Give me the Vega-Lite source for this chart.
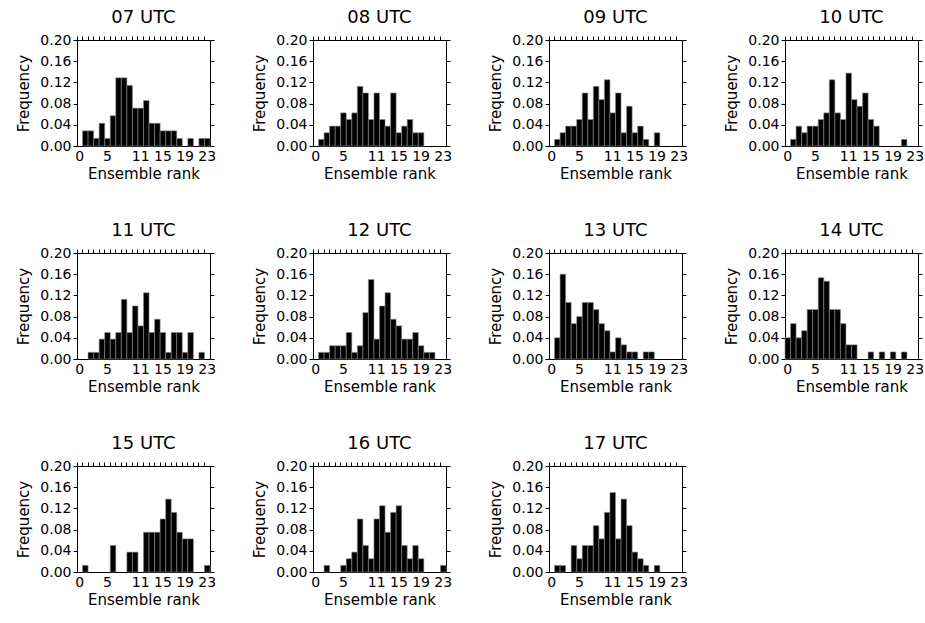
{
  "$schema": "https://vega.github.io/schema/vega-lite/v6.json",
  "background": "white",
  "padding": {"left": 16, "top": 9, "right": 5, "bottom": 5},
  "config": {
    "font": "DejaVu Sans",
    "view": {"stroke": null},
    "axis": {"labelFont": "DejaVu Sans", "titleFont": "DejaVu Sans", "labelColor": "black", "titleColor": "black", "domainColor": "black", "tickColor": "black", "grid": false, "titleFontWeight": "normal", "labelFontSize": 14, "titleFontSize": 15}
  },
  "data": {"values": [
    {"h":"07 UTC","r":1,"f":0.0286},{"h":"07 UTC","r":2,"f":0.0286},{"h":"07 UTC","r":3,"f":0.0143},{"h":"07 UTC","r":4,"f":0.0429},{"h":"07 UTC","r":5,"f":0.0143},{"h":"07 UTC","r":6,"f":0.0571},{"h":"07 UTC","r":7,"f":0.1286},{"h":"07 UTC","r":8,"f":0.1286},{"h":"07 UTC","r":9,"f":0.1143},{"h":"07 UTC","r":10,"f":0.0714},{"h":"07 UTC","r":11,"f":0.0714},{"h":"07 UTC","r":12,"f":0.0857},{"h":"07 UTC","r":13,"f":0.0429},{"h":"07 UTC","r":14,"f":0.0429},{"h":"07 UTC","r":15,"f":0.0286},{"h":"07 UTC","r":16,"f":0.0286},{"h":"07 UTC","r":17,"f":0.0286},{"h":"07 UTC","r":18,"f":0.0143},{"h":"07 UTC","r":20,"f":0.0143},{"h":"07 UTC","r":22,"f":0.0143},{"h":"07 UTC","r":23,"f":0.0143},
    {"h":"08 UTC","r":1,"f":0.0125},{"h":"08 UTC","r":2,"f":0.025},{"h":"08 UTC","r":3,"f":0.0375},{"h":"08 UTC","r":4,"f":0.0375},{"h":"08 UTC","r":5,"f":0.0625},{"h":"08 UTC","r":6,"f":0.05},{"h":"08 UTC","r":7,"f":0.0625},{"h":"08 UTC","r":8,"f":0.1125},{"h":"08 UTC","r":9,"f":0.1},{"h":"08 UTC","r":10,"f":0.05},{"h":"08 UTC","r":11,"f":0.1},{"h":"08 UTC","r":12,"f":0.05},{"h":"08 UTC","r":13,"f":0.0375},{"h":"08 UTC","r":14,"f":0.1},{"h":"08 UTC","r":15,"f":0.025},{"h":"08 UTC","r":16,"f":0.0375},{"h":"08 UTC","r":17,"f":0.05},{"h":"08 UTC","r":18,"f":0.025},{"h":"08 UTC","r":19,"f":0.025},
    {"h":"09 UTC","r":1,"f":0.0125},{"h":"09 UTC","r":2,"f":0.025},{"h":"09 UTC","r":3,"f":0.0375},{"h":"09 UTC","r":4,"f":0.0375},{"h":"09 UTC","r":5,"f":0.05},{"h":"09 UTC","r":6,"f":0.1},{"h":"09 UTC","r":7,"f":0.05},{"h":"09 UTC","r":8,"f":0.1125},{"h":"09 UTC","r":9,"f":0.0875},{"h":"09 UTC","r":10,"f":0.125},{"h":"09 UTC","r":11,"f":0.0625},{"h":"09 UTC","r":12,"f":0.1},{"h":"09 UTC","r":13,"f":0.025},{"h":"09 UTC","r":14,"f":0.075},{"h":"09 UTC","r":15,"f":0.025},{"h":"09 UTC","r":16,"f":0.0375},{"h":"09 UTC","r":17,"f":0.0125},{"h":"09 UTC","r":19,"f":0.025},
    {"h":"10 UTC","r":1,"f":0.0125},{"h":"10 UTC","r":2,"f":0.0375},{"h":"10 UTC","r":3,"f":0.025},{"h":"10 UTC","r":4,"f":0.0375},{"h":"10 UTC","r":5,"f":0.0375},{"h":"10 UTC","r":6,"f":0.05},{"h":"10 UTC","r":7,"f":0.0625},{"h":"10 UTC","r":8,"f":0.125},{"h":"10 UTC","r":9,"f":0.0625},{"h":"10 UTC","r":10,"f":0.05},{"h":"10 UTC","r":11,"f":0.1375},{"h":"10 UTC","r":12,"f":0.0875},{"h":"10 UTC","r":13,"f":0.075},{"h":"10 UTC","r":14,"f":0.1},{"h":"10 UTC","r":15,"f":0.05},{"h":"10 UTC","r":16,"f":0.0375},{"h":"10 UTC","r":21,"f":0.0125},
    {"h":"11 UTC","r":2,"f":0.0125},{"h":"11 UTC","r":3,"f":0.0125},{"h":"11 UTC","r":4,"f":0.0375},{"h":"11 UTC","r":5,"f":0.05},{"h":"11 UTC","r":6,"f":0.0375},{"h":"11 UTC","r":7,"f":0.05},{"h":"11 UTC","r":8,"f":0.1125},{"h":"11 UTC","r":9,"f":0.05},{"h":"11 UTC","r":10,"f":0.1},{"h":"11 UTC","r":11,"f":0.0625},{"h":"11 UTC","r":12,"f":0.125},{"h":"11 UTC","r":13,"f":0.05},{"h":"11 UTC","r":14,"f":0.075},{"h":"11 UTC","r":15,"f":0.05},{"h":"11 UTC","r":16,"f":0.0125},{"h":"11 UTC","r":17,"f":0.05},{"h":"11 UTC","r":18,"f":0.05},{"h":"11 UTC","r":19,"f":0.0125},{"h":"11 UTC","r":20,"f":0.05},{"h":"11 UTC","r":22,"f":0.0125},
    {"h":"12 UTC","r":1,"f":0.0125},{"h":"12 UTC","r":2,"f":0.0125},{"h":"12 UTC","r":3,"f":0.025},{"h":"12 UTC","r":4,"f":0.025},{"h":"12 UTC","r":5,"f":0.025},{"h":"12 UTC","r":6,"f":0.05},{"h":"12 UTC","r":7,"f":0.0125},{"h":"12 UTC","r":8,"f":0.025},{"h":"12 UTC","r":9,"f":0.0875},{"h":"12 UTC","r":10,"f":0.15},{"h":"12 UTC","r":11,"f":0.0375},{"h":"12 UTC","r":12,"f":0.1},{"h":"12 UTC","r":13,"f":0.125},{"h":"12 UTC","r":14,"f":0.075},{"h":"12 UTC","r":15,"f":0.0625},{"h":"12 UTC","r":16,"f":0.0375},{"h":"12 UTC","r":17,"f":0.0375},{"h":"12 UTC","r":18,"f":0.05},{"h":"12 UTC","r":19,"f":0.025},{"h":"12 UTC","r":20,"f":0.0125},{"h":"12 UTC","r":21,"f":0.0125},
    {"h":"13 UTC","r":1,"f":0.04},{"h":"13 UTC","r":2,"f":0.16},{"h":"13 UTC","r":3,"f":0.1067},{"h":"13 UTC","r":4,"f":0.0667},{"h":"13 UTC","r":5,"f":0.08},{"h":"13 UTC","r":6,"f":0.1067},{"h":"13 UTC","r":7,"f":0.1067},{"h":"13 UTC","r":8,"f":0.0933},{"h":"13 UTC","r":9,"f":0.0667},{"h":"13 UTC","r":10,"f":0.0533},{"h":"13 UTC","r":11,"f":0.0133},{"h":"13 UTC","r":12,"f":0.04},{"h":"13 UTC","r":13,"f":0.0267},{"h":"13 UTC","r":14,"f":0.0133},{"h":"13 UTC","r":15,"f":0.0133},{"h":"13 UTC","r":17,"f":0.0133},{"h":"13 UTC","r":18,"f":0.0133},
    {"h":"14 UTC","r":0,"f":0.04},{"h":"14 UTC","r":1,"f":0.0667},{"h":"14 UTC","r":2,"f":0.04},{"h":"14 UTC","r":3,"f":0.0533},{"h":"14 UTC","r":4,"f":0.0933},{"h":"14 UTC","r":5,"f":0.0933},{"h":"14 UTC","r":6,"f":0.1533},{"h":"14 UTC","r":7,"f":0.1467},{"h":"14 UTC","r":8,"f":0.0933},{"h":"14 UTC","r":9,"f":0.0933},{"h":"14 UTC","r":10,"f":0.0667},{"h":"14 UTC","r":11,"f":0.0267},{"h":"14 UTC","r":12,"f":0.0267},{"h":"14 UTC","r":15,"f":0.0133},{"h":"14 UTC","r":17,"f":0.0133},{"h":"14 UTC","r":19,"f":0.0133},{"h":"14 UTC","r":21,"f":0.0133},
    {"h":"15 UTC","r":1,"f":0.0125},{"h":"15 UTC","r":6,"f":0.05},{"h":"15 UTC","r":9,"f":0.0375},{"h":"15 UTC","r":10,"f":0.0375},{"h":"15 UTC","r":12,"f":0.075},{"h":"15 UTC","r":13,"f":0.075},{"h":"15 UTC","r":14,"f":0.075},{"h":"15 UTC","r":15,"f":0.1},{"h":"15 UTC","r":16,"f":0.1375},{"h":"15 UTC","r":17,"f":0.1125},{"h":"15 UTC","r":18,"f":0.075},{"h":"15 UTC","r":19,"f":0.0625},{"h":"15 UTC","r":20,"f":0.0625},{"h":"15 UTC","r":23,"f":0.0125},
    {"h":"16 UTC","r":2,"f":0.0125},{"h":"16 UTC","r":5,"f":0.0125},{"h":"16 UTC","r":6,"f":0.025},{"h":"16 UTC","r":7,"f":0.0375},{"h":"16 UTC","r":8,"f":0.1},{"h":"16 UTC","r":9,"f":0.05},{"h":"16 UTC","r":10,"f":0.025},{"h":"16 UTC","r":11,"f":0.1},{"h":"16 UTC","r":12,"f":0.125},{"h":"16 UTC","r":13,"f":0.075},{"h":"16 UTC","r":14,"f":0.1125},{"h":"16 UTC","r":15,"f":0.125},{"h":"16 UTC","r":16,"f":0.05},{"h":"16 UTC","r":17,"f":0.025},{"h":"16 UTC","r":18,"f":0.05},{"h":"16 UTC","r":19,"f":0.025},{"h":"16 UTC","r":23,"f":0.0125},
    {"h":"17 UTC","r":1,"f":0.0125},{"h":"17 UTC","r":2,"f":0.0125},{"h":"17 UTC","r":4,"f":0.05},{"h":"17 UTC","r":5,"f":0.025},{"h":"17 UTC","r":6,"f":0.05},{"h":"17 UTC","r":7,"f":0.05},{"h":"17 UTC","r":8,"f":0.0875},{"h":"17 UTC","r":9,"f":0.0625},{"h":"17 UTC","r":10,"f":0.1125},{"h":"17 UTC","r":11,"f":0.15},{"h":"17 UTC","r":12,"f":0.0625},{"h":"17 UTC","r":13,"f":0.1375},{"h":"17 UTC","r":14,"f":0.0875},{"h":"17 UTC","r":15,"f":0.0375},{"h":"17 UTC","r":16,"f":0.025},{"h":"17 UTC","r":17,"f":0.0125},{"h":"17 UTC","r":19,"f":0.0125}
  ]},
  "facet": {"field": "h", "type": "nominal", "header": {"title": null, "labelFont": "DejaVu Sans", "labelFontSize": 18, "labelColor": "black", "labelPadding": 6}},
  "columns": 4,
  "spacing": {"column": 36, "row": 41},
  "resolve": {"axis": {"x": "independent", "y": "independent"}},
  "spec": {
    "width": 133,
    "height": 106,
    "layer": [
      {
        "mark": {"type": "bar", "fill": "black", "stroke": "#8a8a8a", "strokeWidth": 0.6},
        "encoding": {
          "x": {"field": "r", "type": "ordinal", "scale": {"domain": [0,1,2,3,4,5,6,7,8,9,10,11,12,13,14,15,16,17,18,19,20,21,22,23], "paddingInner": 0, "paddingOuter": 0}, "axis": {"orient": "bottom", "values": [0,5,11,15,19,23], "labelAngle": 0, "ticks": false, "labelPadding": 3, "title": "Ensemble rank", "titlePadding": 3}},
          "y": {"field": "f", "type": "quantitative", "scale": {"domain": [0, 0.2], "nice": false}, "axis": {"orient": "left", "values": [0, 0.04, 0.08, 0.12, 0.16, 0.2], "format": ".2f", "tickSize": 4, "labelPadding": 2, "title": "Frequency", "titlePadding": 8}}
        }
      },
      {
        "mark": {"type": "bar", "opacity": 0},
        "encoding": {
          "x": {"field": "r", "type": "ordinal", "axis": {"orient": "top", "labels": false, "bandPosition": 0, "tickSize": 4, "title": null}},
          "y": {"field": "f", "type": "quantitative", "axis": {"orient": "right", "labels": false, "values": [0, 0.04, 0.08, 0.12, 0.16, 0.2], "tickSize": 4, "title": null}}
        }
      }
    ],
    "resolve": {"axis": {"x": "independent", "y": "independent"}}
  }
}
